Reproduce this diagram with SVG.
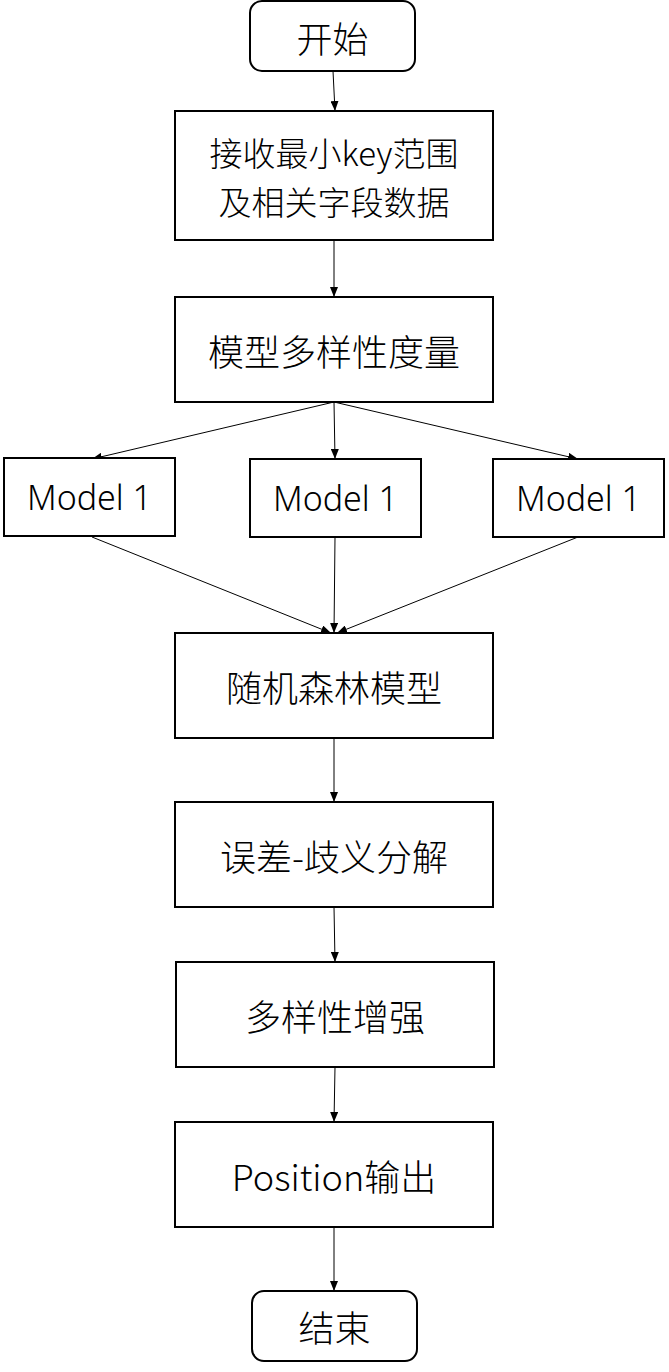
<svg xmlns="http://www.w3.org/2000/svg" width="669" height="1372" viewBox="0 0 669 1372">
<style>
.box{fill:#fff;stroke:#000;stroke-width:2}
.t{font-family:"Noto Sans CJK SC","Noto Sans",sans-serif;font-size:36px;font-weight:300;fill:#000;text-anchor:middle;dominant-baseline:central}
.t2{font-size:33px}
.m{font-family:"Noto Sans","Noto Sans CJK SC",sans-serif;font-size:34px;font-weight:300;fill:#000;text-anchor:middle;dominant-baseline:central}
.c{stroke:#000;stroke-width:1;fill:none;marker-end:url(#ah)}
</style>
<defs>
<marker id="ah" markerWidth="10" markerHeight="8" refX="10" refY="4" orient="auto" markerUnits="userSpaceOnUse">
<path d="M0,0 L10,4 L0,8 Z" fill="#000"/>
</marker>
</defs>
<rect width="669" height="1372" fill="#fff"/>
<g id="connectors">
<line class="c" x1="333" y1="71" x2="335" y2="111"/>
<line class="c" x1="334" y1="240" x2="334" y2="297"/>
<line class="c" x1="334" y1="402" x2="92" y2="459"/>
<line class="c" x1="334" y1="402" x2="335" y2="459"/>
<line class="c" x1="334" y1="402" x2="578" y2="459"/>
<line class="c" x1="92" y1="537" x2="331" y2="633"/>
<line class="c" x1="335" y1="537" x2="334" y2="633"/>
<line class="c" x1="578" y1="537" x2="337" y2="633"/>
<line class="c" x1="334" y1="738" x2="334" y2="802"/>
<line class="c" x1="334" y1="907" x2="335" y2="962"/>
<line class="c" x1="335" y1="1067" x2="334" y2="1122"/>
<line class="c" x1="334" y1="1227" x2="334" y2="1291"/>
</g>
<g id="start"><rect class="box" x="250" y="1" width="165" height="70" rx="12"/><text class="t" x="332.5" y="37">开始</text></g>
<g id="receive"><rect class="box" x="175" y="111" width="318" height="129"/><text class="t t2" x="334" y="152">接收最小key范围</text><text class="t t2" x="334" y="201">及相关字段数据</text></g>
<g id="diversity"><rect class="box" x="175" y="297" width="318" height="105"/><text class="t" x="334" y="350">模型多样性度量</text></g>
<g id="model-left"><rect class="box" x="4" y="458" width="171" height="78"/><text class="m" x="89.5" y="497">Model 1</text></g>
<g id="model-mid"><rect class="box" x="250" y="459" width="171" height="78"/><text class="m" x="335.5" y="498">Model 1</text></g>
<g id="model-right"><rect class="box" x="493" y="459" width="171" height="78"/><text class="m" x="578.5" y="498">Model 1</text></g>
<g id="rf"><rect class="box" x="175" y="633" width="318" height="105"/><text class="t" x="334" y="686">随机森林模型</text></g>
<g id="decomp"><rect class="box" x="175" y="802" width="318" height="105"/><text class="t" x="334" y="855">误差-歧义分解</text></g>
<g id="enhance"><rect class="box" x="176" y="962" width="318" height="105"/><text class="t" x="335" y="1015">多样性增强</text></g>
<g id="output"><rect class="box" x="175" y="1122" width="318" height="105"/><text class="t" x="334" y="1175">Position输出</text></g>
<g id="end"><rect class="box" x="252" y="1291" width="165" height="70" rx="12"/><text class="t" x="334.5" y="1326">结束</text></g>
</svg>
